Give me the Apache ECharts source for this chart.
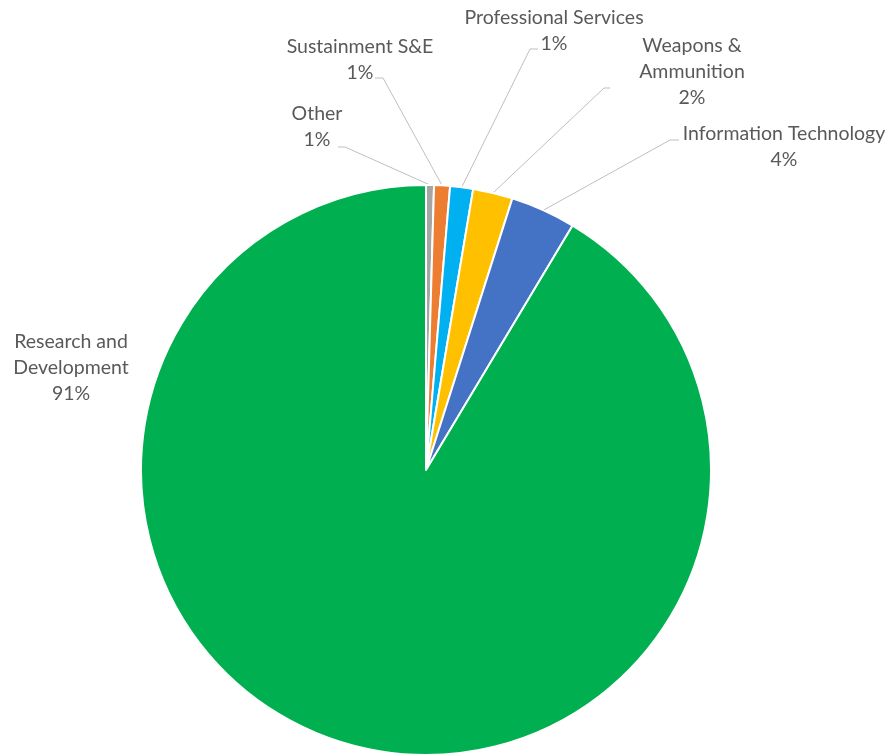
<!DOCTYPE html>
<html>
<head>
<meta charset="utf-8">
<script src="https://cdn.jsdelivr.net/npm/echarts@6/dist/echarts.min.js"></script>
<style>
  html, body { margin: 0; padding: 0; background: #ffffff; }
  #chart { width: 890px; height: 755px; }
</style>
</head>
<body>
<div id="chart"></div>
<script>
// Spending share by category (percent of total)
const categories = [
  'Other',
  'Sustainment S&E',
  'Professional Services',
  'Weapons & Ammunition',
  'Information Technology',
  'Research and Development'
];
const shares = [0.45, 0.9, 1.3, 2.25, 3.7, 91.4];

// Wrapped label text for each category
const labelNames = [
  'Other',
  'Sustainment S&E',
  'Professional Services',
  'Weapons &\nAmmunition',
  'Information Technology',
  'Research and\nDevelopment'
];

const colors = ['#A5A5A5', '#ED7D31', '#00B0F0', '#FFC000', '#4472C4', '#00B050'];

// Label placement: text block centre and the elbow/end of its leader line
const labelSpots = [
  { x: 317, y: 127, bend: [345, 147], end: [338, 147] },
  { x: 360, y: 60,  bend: [383, 78],  end: [375, 78] },
  { x: 554, y: 31,  bend: [530, 49],  end: [538, 49] },
  { x: 692, y: 72,  bend: [604, 88],  end: [610, 88] },
  { x: 784, y: 147, bend: [670, 140], end: [679, 140] },
  { x: 71,  y: 368, bend: null, end: null }
];

const chart = echarts.init(document.getElementById('chart'), null, { renderer: 'canvas' });

const data = categories.map((name, i) => ({
  name: name,
  value: shares[i],
  itemStyle: { color: colors[i] },
  labelLine: { show: i !== 5 }
}));

chart.setOption({
  animation: false,
  backgroundColor: '#ffffff',
  series: [{
    type: 'pie',
    center: [426, 470],
    radius: [0, 285],
    startAngle: 90,
    clockwise: true,
    percentPrecision: 0,
    avoidLabelOverlap: false,
    data: data,
    itemStyle: { borderColor: '#ffffff', borderWidth: 2 },
    label: {
      show: true,
      position: 'outside',
      fontFamily: 'Lato',
      fontSize: 19.5,
      lineHeight: 26,
      color: '#595959',
      align: 'center',
      overflow: 'none',
      formatter: p => labelNames[p.dataIndex] + '\n' + p.percent + '%'
    },
    labelLine: {
      show: true,
      length: 20,
      length2: 10,
      lineStyle: { color: '#BFBFBF', width: 1 }
    },
    emphasis: { disabled: true },
    labelLayout: function (params) {
      const s = labelSpots[params.dataIndex];
      const out = { x: s.x, y: s.y, align: 'center', verticalAlign: 'middle' };
      if (s.bend && params.labelLinePoints) {
        const p0 = params.labelLinePoints[0];
        out.labelLinePoints = [p0, s.bend, s.end];
      }
      return out;
    }
  }]
});
</script>
</body>
</html>
